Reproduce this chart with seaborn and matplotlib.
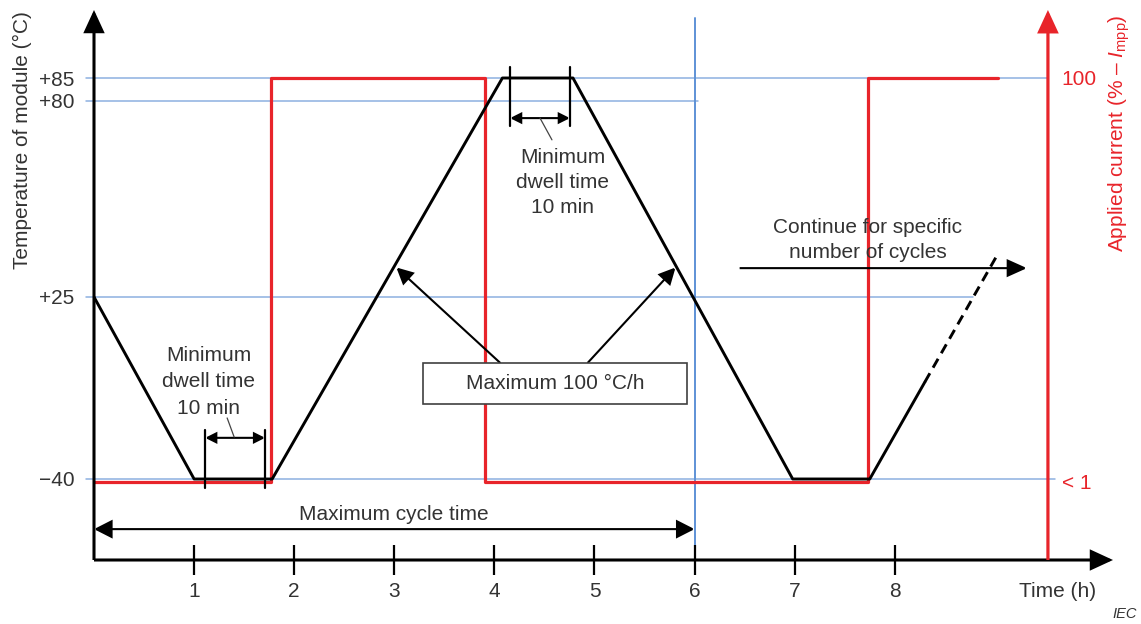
import numpy as np
import matplotlib
matplotlib.use("Agg")
import matplotlib.pyplot as plt
from matplotlib.patches import Rectangle
import seaborn as sns

# ---------------------------------------------------------------------------
# Data
# ---------------------------------------------------------------------------
# Module temperature over one thermal cycle (time in h, temperature in °C)
profile_time = [0.0, 1.0, 1.78, 4.08, 4.785, 6.98, 7.75, 8.30]
profile_temp = [25, -40, -40, 85, 85, -40, -40, -5.4]
# beginning of the following cycle (dashed)
next_time = [8.30, 9.03]
next_temp = [-5.4, 37.1]

# Applied current in % of I_mpp
current_time = [0.0, 1.77, 1.77, 3.91, 3.91, 7.73, 7.73, 9.03]
current_value = [0, 0, 100, 100, 0, 0, 100, 100]

time_ticks = [1, 2, 3, 4, 5, 6, 7, 8]
temp_ticks = [-40, 25, 80, 85]
temp_tick_labels = ["\u221240", "+25", "+80", "+85"]
current_ticks = [0, 100]
current_tick_labels = ["< 1", "100"]

# horizontal reference levels and the time where each one stops
ref_temps = [85, 80, 25, -40]
ref_ends = [9.53, 6.03, 8.78, 9.60]
cycle_time_max = 6.0

# ---------------------------------------------------------------------------
# Style
# ---------------------------------------------------------------------------
sns.set_theme(style="white")
plt.rcParams["font.family"] = ["Liberation Sans", "DejaVu Sans"]
plt.rcParams["mathtext.fontset"] = "custom"
plt.rcParams["mathtext.rm"] = "Liberation Sans"
plt.rcParams["mathtext.it"] = "Liberation Sans:italic"

RED = "#e8242a"
BLUE_H = "#8db0e0"
BLUE_V = "#5e92d6"
TXT = "#333333"
FS = 15

# schematic (non-proportional) temperature axis
temp_knots = np.array([-100.0, -40.0, 25.0, 80.0, 85.0, 110.0])
pos_knots = np.array([-87.0, 81.0, 263.0, 459.0, 482.0, 597.0])


def temp_to_pos(t):
    return np.interp(t, temp_knots, pos_knots)


def pos_to_temp(p):
    return np.interp(p, pos_knots, temp_knots)


fig = plt.figure(figsize=(11.41, 6.24), dpi=100)
ax = fig.add_axes([94 / 1141, 64 / 624, 1019 / 1141, 550 / 624])
ax2 = ax.twinx()

x_max = 10.18
t_lo, t_hi = float(pos_to_temp(0.0)), float(pos_to_temp(550.0))
i_lo, i_hi = -19.31, 116.83

# ---------------------------------------------------------------------------
# Applied current (right axis)
# ---------------------------------------------------------------------------
sns.lineplot(x=current_time, y=current_value, ax=ax2, color=RED, lw=2.3,
             estimator=None, sort=False, zorder=3)
ax2.set_ylim(i_lo, i_hi)

ax.set_yscale("function", functions=(temp_to_pos, pos_to_temp))
ax.set_xlim(0, x_max)
ax.set_ylim(t_lo, t_hi)

# reference levels drawn beneath the current trace
for t, xe in zip(ref_temps, ref_ends):
    ax2.plot([-0.08, xe], [t, t], color=BLUE_H, lw=1.1, transform=ax.transData,
             clip_on=False, zorder=1)
ax2.plot([cycle_time_max, cycle_time_max], [t_lo, 98.0], color=BLUE_V, lw=1.4,
         transform=ax.transData, clip_on=False, zorder=1)
ax2.set_ylim(i_lo, i_hi)
ax2.set_xlim(0, x_max)

# main axes drawn above the twin
ax.set_zorder(ax2.get_zorder() + 1)
ax.patch.set_visible(False)

# ---------------------------------------------------------------------------
# Temperature profile
# ---------------------------------------------------------------------------
sns.lineplot(x=profile_time, y=profile_temp, ax=ax, color="black", lw=2.1,
             estimator=None, sort=False, zorder=4)
sns.lineplot(x=next_time, y=next_temp, ax=ax, color="black", lw=2.1,
             estimator=None, sort=False, zorder=4, linestyle=(0, (3.5, 2.2)))
ax.set_xlim(0, x_max)
ax.set_ylim(t_lo, t_hi)

for a in (ax, ax2):
    for s in a.spines.values():
        s.set_visible(False)
    a.grid(False)


def arrow(a, start, end, style, color="black", lw=1.5, ms=20, z=5):
    a.annotate("", xy=end, xytext=start, annotation_clip=False,
               arrowprops=dict(arrowstyle=style, color=color, lw=lw,
                               mutation_scale=ms, shrinkA=0, shrinkB=0,
                               joinstyle="miter", capstyle="butt"),
               zorder=z)


axis_head = "-|>,head_length=0.65,head_width=0.3"
arrow(ax, (0, t_lo), (0, t_hi), axis_head, lw=2.2)
arrow(ax, (0, t_lo), (x_max, t_lo), axis_head, lw=2.2)
arrow(ax, (9.53, t_lo), (9.53, t_hi), axis_head, color=RED, lw=2.3)

# ---------------------------------------------------------------------------
# Ticks and labels
# ---------------------------------------------------------------------------
ax.set_xticks(time_ticks)
ax.set_xticklabels([str(v) for v in time_ticks])
ax.tick_params(axis="x", bottom=True, direction="inout", length=22, width=1.6,
               color="black", labelsize=FS, labelcolor=TXT, pad=5)
ax.set_yticks(temp_ticks)
ax.set_yticklabels(temp_tick_labels)
ax.yaxis.set_minor_locator(matplotlib.ticker.NullLocator())
ax.tick_params(axis="y", left=True, length=0, labelsize=FS, labelcolor=TXT, pad=14)

ax2.spines["right"].set_position(("data", 9.53))
ax2.set_yticks(current_ticks)
ax2.set_yticklabels(current_tick_labels)
ax2.tick_params(axis="y", right=True, length=0, labelsize=FS, labelcolor=RED, pad=10)

ax.set_ylabel("Temperature of module (°C)", fontsize=FS, color=TXT)
ax.yaxis.set_label_coords(-0.061, 0.764)
ax2.set_ylabel(r"Applied current (% – $I_{\mathrm{mpp}}$)", fontsize=FS, color=RED)
ax2.yaxis.set_label_coords(0.994, 0.776)
ax.set_xlabel("Time (h)", fontsize=FS, color=TXT)
ax.xaxis.set_label_coords(0.946, -0.04)

# ---------------------------------------------------------------------------
# Annotations
# ---------------------------------------------------------------------------
small_dbl = "<|-|>,head_length=0.4,head_width=0.2"
dwell_text = "Minimum\ndwell time\n10 min"

# dwell at the low temperature
for xv in (1.11, 1.71):
    ax.plot([xv, xv], [-22.5, -43.2], color="black", lw=1.6, zorder=5)
arrow(ax, (1.11, -25.3), (1.71, -25.3), small_dbl, ms=16)
ax.plot([1.33, 1.40], [-18.2, -25.0], color="#444444", lw=0.9, zorder=5)
ax.text(1.145, -5.2, dwell_text, ha="center", va="center", fontsize=FS,
        color=TXT, linespacing=1.5, zorder=6)

# dwell at the high temperature
for xv in (4.156, 4.755):
    ax.plot([xv, xv], [87.4, 73.0], color="black", lw=1.6, zorder=5)
arrow(ax, (4.156, 75.2), (4.755, 75.2), small_dbl, ms=16)
ax.plot([4.456, 4.575], [75.2, 69.1], color="#444444", lw=0.9, zorder=5)
ax.text(4.685, 57.2, dwell_text, ha="center", va="center", fontsize=FS,
        color=TXT, linespacing=1.4, zorder=6)

# maximum cycle time
arrow(ax, (0.0, -57.9), (cycle_time_max, -57.9),
      "<|-|>,head_length=0.55,head_width=0.28", ms=20)
ax.text(3.0, -52.5, "Maximum cycle time", ha="center", va="center",
        fontsize=FS, color=TXT, zorder=6)

# ramp-rate box with pointers to both ramps
ramp_head = "-|>,head_length=0.5,head_width=0.25"
arrow(ax, (4.06, 1.4), (3.02, 33.3), ramp_head, ms=20)
arrow(ax, (4.93, 1.4), (5.81, 33.3), ramp_head, ms=20)
ax.add_patch(Rectangle((3.287, -13.2), 2.637, 14.6, facecolor="white",
                       edgecolor="#404040", lw=1.2, zorder=6))
ax.text(4.605, -5.9, "Maximum 100 °C/h", ha="center", va="center",
        fontsize=FS, color=TXT, zorder=7)

# continuation
arrow(ax, (6.45, 33.1), (9.32, 33.1), "-|>,head_length=0.6,head_width=0.27", ms=20)
ax.text(7.73, 41.0, "Continue for specific\nnumber of cycles", ha="center",
        va="center", fontsize=FS, color=TXT, linespacing=1.35, zorder=6)

fig.text(1125 / 1141, 1 - 614 / 624, "IEC", ha="center", va="center",
         fontsize=10.5, style="italic", color=TXT)

fig.savefig("out.png", dpi=100, facecolor="white")
